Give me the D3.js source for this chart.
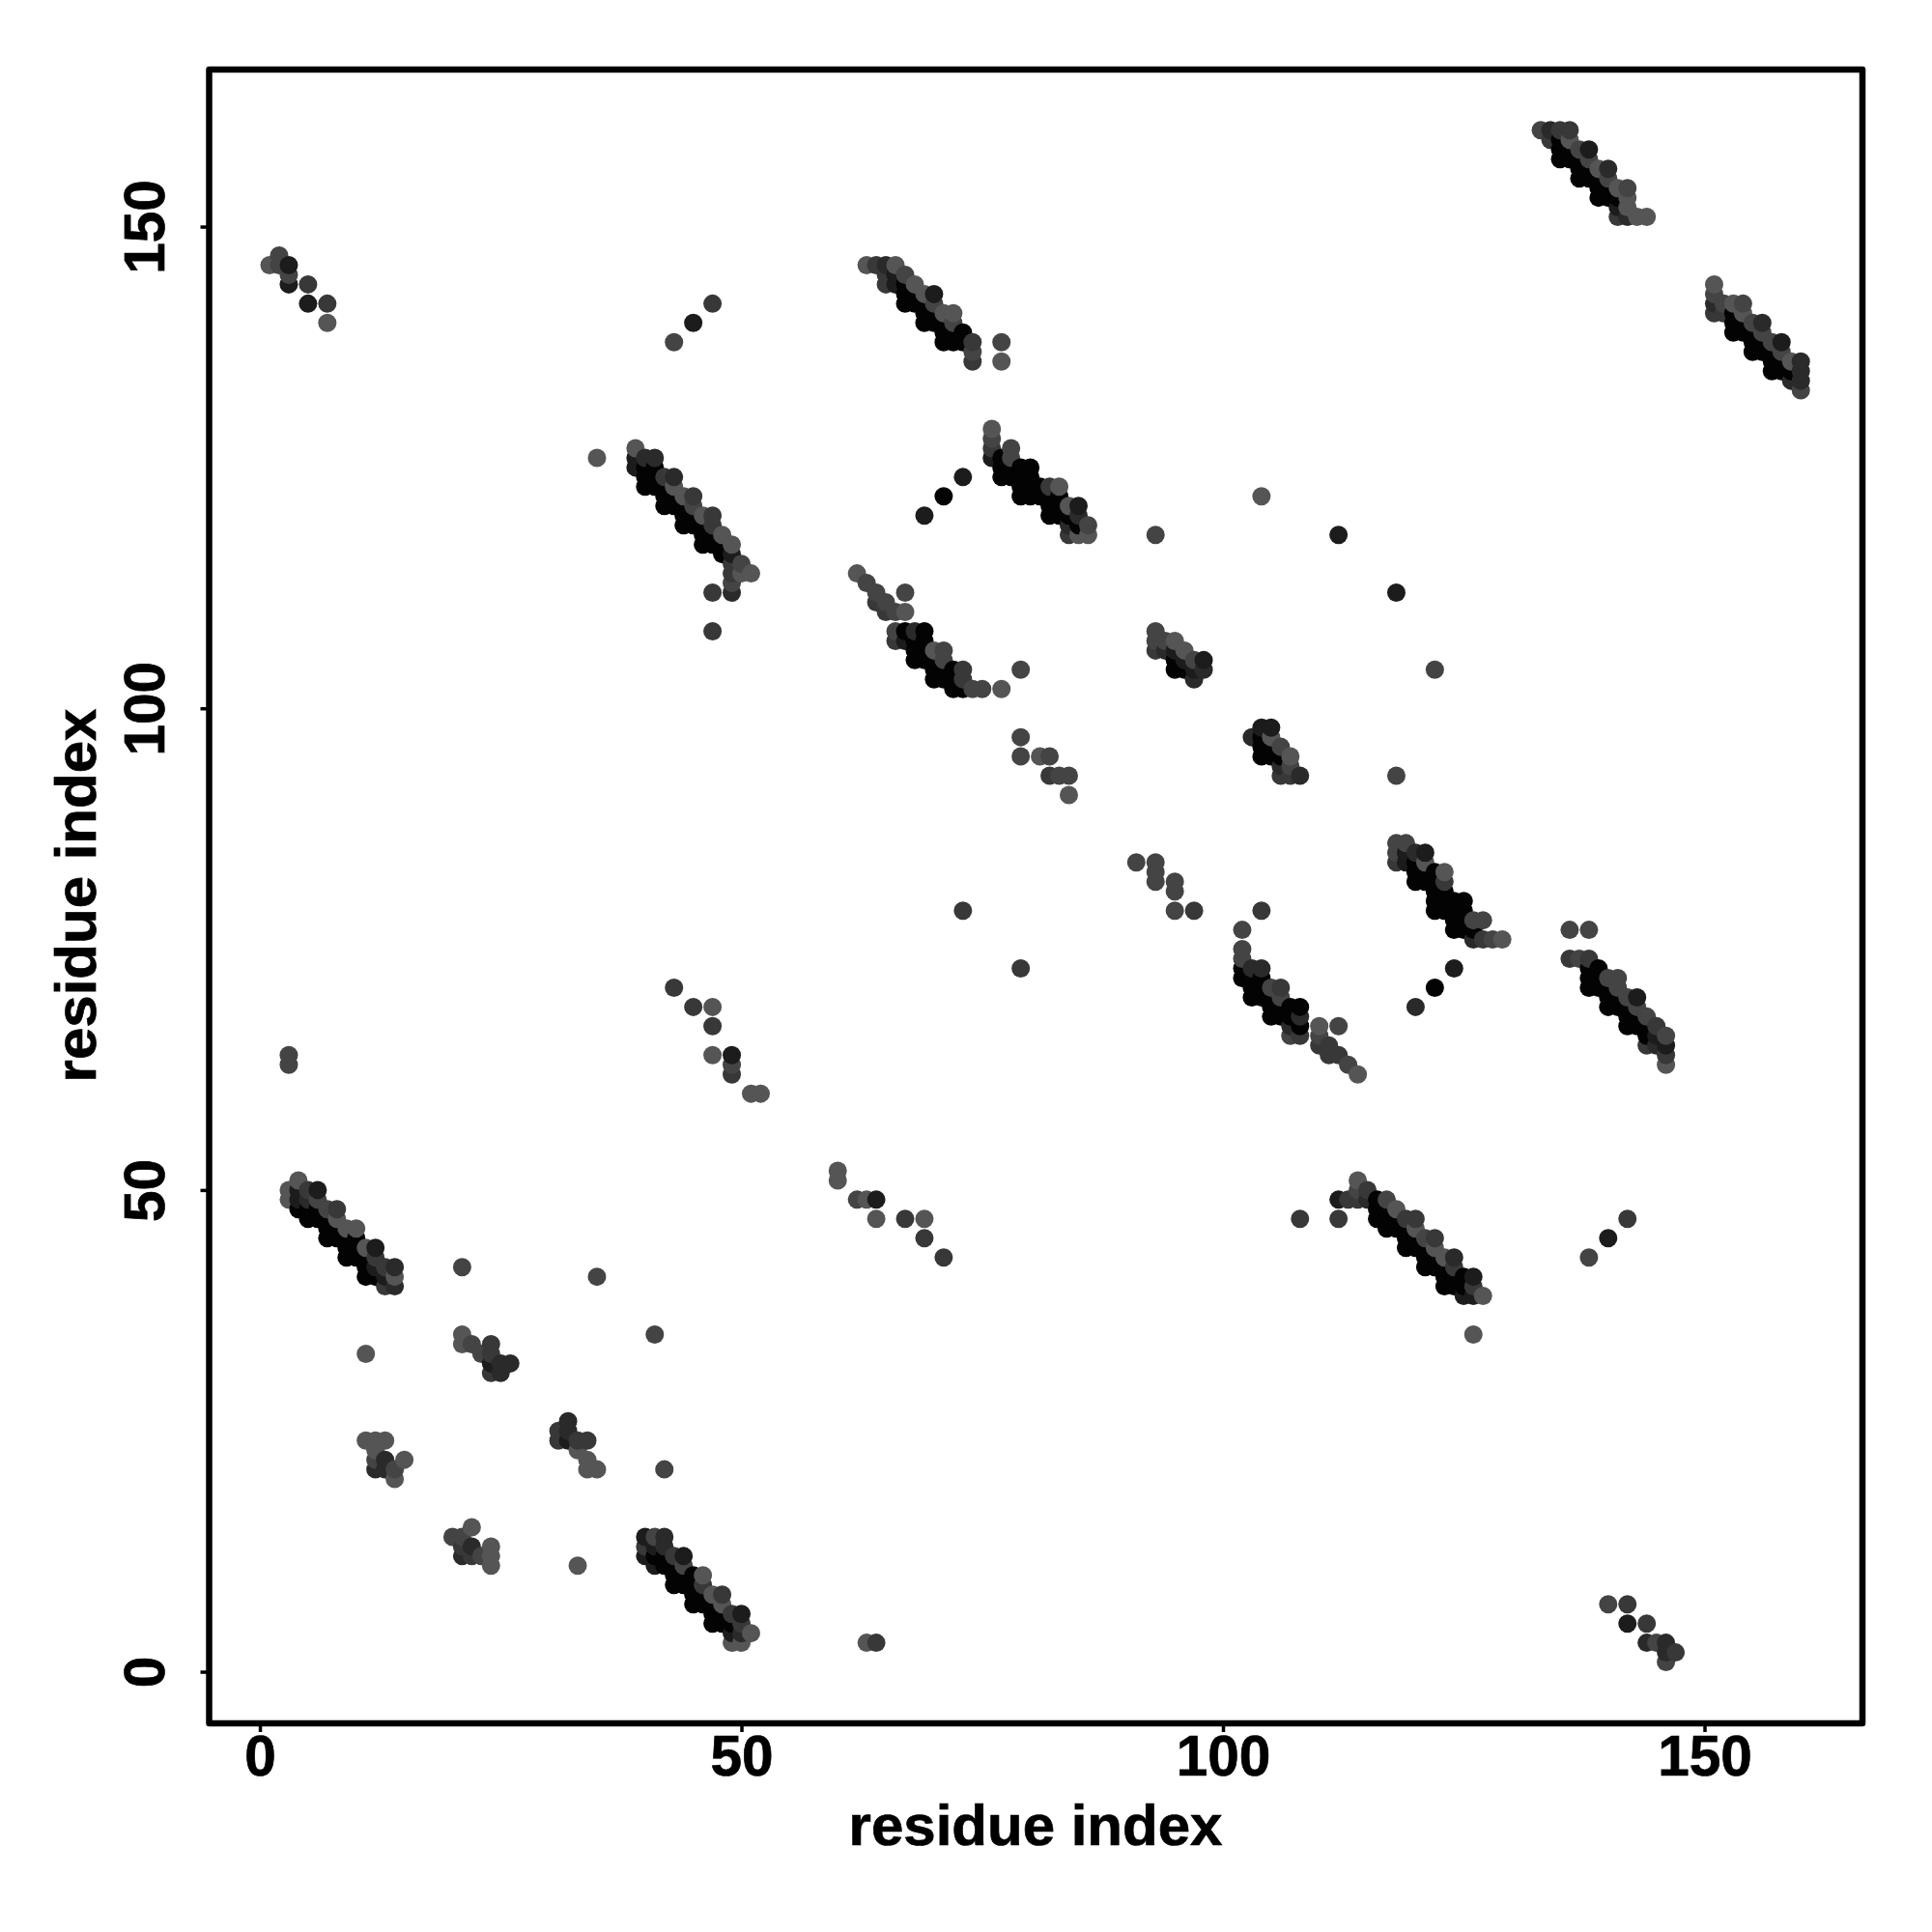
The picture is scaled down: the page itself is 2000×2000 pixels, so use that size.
<!DOCTYPE html>
<html>
<head>
<meta charset="utf-8">
<script src="https://cdn.jsdelivr.net/npm/d3@7/dist/d3.min.js"></script>
<style>html,body{margin:0;padding:0;background:#fff}svg{display:block}text{font-family:"Liberation Sans",Arial,sans-serif;font-weight:bold;fill:#000;stroke:#000;stroke-width:0.7px}</style>
</head>
<body>
<script>
// every contact is [residue x, residue y, darkness level 0 (black) .. 5 (grey)]
const xTicks = [0, 50, 100, 150];
const yTicks = [0, 50, 100, 150];
const xTitle = "residue index";
const yTitle = "residue index";
const levelDomain = [0, 1, 2, 3, 4, 5];
const levelGrey = ["#030303", "#1c1c1c", "#2a2a2a", "#383838", "#444444", "#555555"];

const isolated = [
[1,146,5],[2,146,4],[2,147,4],[3,144,1],[3,145,4],[3,146,1],[5,142,1],[5,144,3],[7,140,5],[7,142,3],
[43,138,4],[45,140,1],[47,142,3],[35,126,5],[21,42,4],[35,41,4],[41,35,4],[11,33,5],[42,21,4],[33,11,5],
[3,63,4],[3,64,4],[63,3,5],[64,3,3],[73,124,1],[71,122,0],[69,120,1],[93,118,4],[104,122,5],[112,118,1],
[118,112,1],[122,104,4],[118,93,4],[73,79,3],[79,73,3],[104,79,3],[126,35,5],[108,47,3],
[124,73,1],[122,71,0],[120,69,2],[138,43,4],[140,45,1],[142,47,3]];

const sheetLowerLeft = [
[3,49,5],[3,50,5],[4,48,0],[4,49,1],[4,50,1],[4,51,5],[5,47,0],[5,48,0],[5,49,2],[5,50,3],
[6,47,0],[6,48,0],[6,49,4],[6,50,1],[7,45,0],[7,46,0],[7,47,0],[7,48,4],[8,45,0],[8,46,0],[8,47,5],[8,48,3],
[9,43,0],[9,44,0],[9,45,0],[9,46,5],[10,43,0],[10,44,0],[10,45,0],[10,46,5],[11,41,0],[11,42,0],[11,43,0],[11,44,5],
[12,41,0],[12,42,1],[12,43,3],[12,44,1],[13,40,3],[13,41,1],[13,42,3],[14,40,2],[14,41,5],[14,42,2]];

const smallBlocks = [
[21,34,5],[21,35,5],[22,34,4],[23,33,4],[24,31,3],[24,32,1],[24,33,3],[24,34,3],[25,31,2],[25,32,2],[26,32,2],
[11,24,5],[12,24,5],[13,24,5],[12,21,2],[12,22,4],[12,23,5],[13,21,2],[13,22,2],[14,20,5],[14,21,4],[15,22,5],
[31,24,3],[31,25,3],[32,24,1],[32,25,2],[32,26,2],[33,23,5],[33,24,3],[34,21,5],[34,22,5],[34,24,3],[35,21,5],
[20,14,4],[21,12,2],[21,13,3],[21,14,4],[22,12,3],[22,13,2],[22,15,5],[23,12,4],[24,11,5],[24,12,5],[24,13,5]];

const sheetBottom = [
[40,12,1],[40,13,3],[40,14,1],[41,11,1],[41,12,0],[41,13,1],[41,14,4],[42,11,0],[42,12,0],[42,13,2],[42,14,2],
[43,9,0],[43,10,0],[43,11,0],[43,12,3],[44,9,0],[44,10,0],[44,11,4],[44,12,1],[45,7,0],[45,8,0],[45,9,0],[45,10,0],
[46,7,0],[46,8,0],[46,9,3],[46,10,5],[47,5,0],[47,6,0],[47,7,0],[47,8,5],[48,5,0],[48,6,0],[48,7,5],[48,8,3],
[49,3,5],[49,4,1],[49,5,0],[49,6,3],[50,3,5],[50,4,2],[50,5,3],[50,6,1],[51,4,5]];

const bandBottomRight = [
[140,7,4],[142,5,1],[142,7,3],[144,3,2],[144,5,3],[145,3,4],[146,1,4],[146,2,2],[146,3,2],[147,2,3]];

const chainMiddle = [
[60,51,5],[60,52,5],[62,49,4],[63,49,5],[64,47,5],[64,49,1],[67,47,3],[69,45,3],[69,47,5],[71,43,3],
[43,71,3],[45,69,3],[47,64,5],[47,67,3],[47,69,5],[49,62,3],[49,63,4],[49,64,1],[51,60,5],[52,60,5],
[91,84,4],[93,82,4],[93,83,4],[93,84,4],[95,79,4],[95,81,4],[95,82,4],[97,79,3]];

const sheetLowerMid = [
[112,47,3],[112,49,1],[113,49,3],[114,49,3],[114,50,4],[114,51,5],[115,49,2],[115,50,3],[116,47,0],[116,48,0],[116,49,0],
[117,46,0],[117,47,0],[117,48,0],[117,49,4],[118,46,0],[118,47,0],[118,48,5],[119,44,0],[119,45,0],[119,46,0],[119,47,3],
[120,44,0],[120,45,0],[120,46,5],[120,47,3],[121,42,0],[121,43,0],[121,44,0],[121,45,4],[122,42,0],[122,43,0],[122,44,5],[122,45,3],
[123,40,0],[123,41,0],[123,42,0],[123,43,5],[124,40,0],[124,41,0],[124,42,3],[124,43,2],[125,39,1],[125,40,0],[125,41,0],
[126,39,1],[126,40,3],[126,41,1],[127,39,5]];

const sheetUpperLeft = [
[39,125,1],[39,126,1],[39,127,5],[40,123,0],[40,124,0],[40,125,0],[40,126,2],[41,123,0],[41,124,0],[41,125,0],[41,126,2],
[42,121,0],[42,122,0],[42,123,0],[42,124,3],[43,121,0],[43,122,0],[43,123,5],[43,124,2],[44,119,0],[44,120,0],[44,121,0],[44,122,5],
[45,119,0],[45,120,0],[45,121,4],[45,122,3],[46,117,0],[46,118,0],[46,119,0],[46,120,5],[47,108,3],[47,112,3],[47,117,0],[47,118,0],[47,119,3],[47,120,3],
[48,116,0],[48,117,0],[48,118,5],[49,112,2],[49,113,4],[49,114,3],[49,115,3],[49,116,1],[49,117,5],[50,114,5],[50,115,4],[51,114,5]];

const sheetTopMid = [
[63,146,5],[64,146,3],[65,144,3],[65,145,3],[65,146,2],[66,144,1],[66,145,1],[66,146,5],[67,142,0],[67,143,0],[67,144,0],[67,145,4],
[68,142,0],[68,143,0],[68,144,5],[69,140,0],[69,141,0],[69,142,0],[69,143,5],[70,140,0],[70,141,0],[70,142,4],[70,143,1],
[71,138,0],[71,139,0],[71,140,0],[71,141,5],[72,138,0],[72,139,0],[72,140,4],[72,141,5],[73,138,0],[73,139,0],
[74,136,3],[74,137,4],[74,138,3],[77,136,5],[77,138,4]];

const sheetCenterUpper = [
[76,126,1],[76,127,3],[76,128,4],[76,129,5],[77,124,0],[77,125,0],[77,126,0],[78,124,0],[78,125,0],[78,126,4],[78,127,4],
[79,122,0],[79,123,0],[79,124,0],[79,125,0],[80,122,0],[80,123,0],[80,124,0],[80,125,0],[81,122,0],[81,123,0],
[82,120,0],[82,121,0],[82,122,0],[82,123,3],[83,120,0],[83,121,0],[83,122,0],[83,123,5],[84,118,3],[84,119,2],[84,120,0],[84,121,5],
[85,118,5],[85,119,0],[85,120,2],[85,121,1],[86,118,5],[86,119,4]];

const sheetTopRight = [
[133,160,4],[134,159,3],[134,160,2],[135,157,0],[135,158,0],[135,159,0],[135,160,3],[136,157,0],[136,158,0],[136,159,5],[136,160,3],
[137,155,0],[137,156,0],[137,157,0],[137,158,4],[138,155,0],[138,156,0],[138,157,4],[138,158,1],[139,153,0],[139,154,0],[139,155,0],[139,156,5],
[140,153,0],[140,154,0],[140,155,4],[140,156,2],[141,151,3],[141,152,1],[141,153,0],[141,154,5],[142,151,2],[142,152,5],[142,153,5],[142,154,4],[143,151,5],[144,151,5]];

const sheetFarRight = [
[151,141,3],[151,142,2],[151,143,4],[151,144,5],[152,141,3],[152,142,4],[153,139,0],[153,140,0],[153,141,0],[153,142,5],
[154,139,0],[154,140,0],[154,141,5],[154,142,4],[155,137,0],[155,138,0],[155,139,0],[155,140,4],[156,137,0],[156,138,0],[156,139,4],[156,140,2],
[157,135,0],[157,136,0],[157,137,0],[157,138,4],[158,135,0],[158,136,0],[158,137,4],[158,138,1],[159,134,2],[159,135,0],[159,136,5],
[160,133,4],[160,134,2],[160,135,2],[160,136,2]];

const sheetMidRight = [
[102,72,0],[102,73,0],[102,74,4],[102,75,4],[102,77,4],[103,70,0],[103,71,0],[103,72,0],[103,73,2],[104,70,0],[104,71,0],[104,72,0],[104,73,2],
[105,68,0],[105,69,0],[105,70,0],[105,71,4],[106,68,0],[106,69,0],[106,70,4],[106,71,3],[107,66,4],[107,67,2],[107,68,0],[107,69,0],
[108,66,3],[108,67,0],[108,68,2],[108,69,0],[110,65,3],[110,66,4],[110,67,5],[111,64,3],[111,65,3],[112,64,3],[112,67,4],[113,63,4],[114,62,5]];

const sheetCenterRight = [
[118,84,3],[118,85,4],[118,86,4],[119,84,1],[119,85,1],[119,86,4],[120,82,0],[120,83,0],[120,84,0],[120,85,2],[121,82,0],[121,83,0],[121,84,5],[121,85,1],
[122,79,0],[122,80,0],[122,81,0],[122,82,0],[122,83,0],[123,79,0],[123,80,0],[123,81,0],[123,82,3],[123,83,5],[124,77,0],[124,78,0],[124,79,0],[124,80,0],
[125,77,0],[125,78,0],[125,79,0],[125,80,0],[126,76,2],[126,77,0],[126,78,4],[127,76,3],[127,78,4],[128,76,4],[129,76,5]];

const sheetRightLower = [
[136,74,3],[136,77,4],[137,74,4],[138,71,0],[138,72,0],[138,73,0],[138,74,3],[138,77,4],[139,71,0],[139,72,0],[139,73,0],
[140,69,0],[140,70,0],[140,71,0],[140,72,4],[141,69,0],[141,70,0],[141,71,4],[141,72,4],[142,67,0],[142,68,0],[142,69,0],[142,70,4],
[143,67,0],[143,68,0],[143,69,4],[143,70,1],[144,65,3],[144,66,0],[144,67,0],[144,68,4],[145,65,2],[145,66,1],[145,67,3],
[146,63,5],[146,64,3],[146,65,1],[146,66,4]];

const sheetCenterLeft = [
[62,114,5],[63,113,4],[64,111,3],[64,112,4],[65,110,3],[65,111,4],[66,107,3],[66,108,4],[66,110,4],[67,107,1],[67,108,0],[67,110,5],[67,112,4],
[68,105,0],[68,106,0],[68,107,0],[68,108,2],[69,105,0],[69,106,0],[69,107,0],[69,108,0],[70,103,0],[70,104,0],[70,105,0],[70,106,5],
[71,103,0],[71,104,0],[71,105,4],[71,106,4],[72,102,0],[72,103,0],[72,104,0],[73,102,0],[73,103,3],[73,104,3],[74,102,4],[75,102,4],[77,102,5],
[79,95,4],[79,97,4],[79,104,4],[81,95,5],[82,93,3],[82,95,4],[83,93,4],[84,91,5],[84,93,4]];

const blockUpper = [
[93,106,3],[93,107,4],[93,108,4],[94,106,2],[94,107,4],[95,104,0],[95,105,0],[95,106,1],[95,107,5],[96,104,0],[96,105,1],[96,106,5],
[97,103,2],[97,104,1],[97,105,4],[98,104,2],[98,105,1]];

const blockLower = [
[103,97,2],[104,95,0],[104,96,0],[104,97,0],[104,98,1],[105,95,0],[105,96,0],[105,97,5],[105,98,1],[106,93,3],[106,94,2],[106,95,0],[106,96,4],
[107,93,3],[107,94,4],[107,95,5],[108,93,2]];

const contacts = [].concat(isolated, sheetLowerLeft, smallBlocks, sheetBottom, bandBottomRight, chainMiddle,
  sheetLowerMid, sheetUpperLeft, sheetTopMid, sheetCenterUpper, sheetTopRight, sheetFarRight, sheetMidRight,
  sheetCenterRight, sheetRightLower, sheetCenterLeft, blockUpper, blockLower);

const width = 2000, height = 2000;
const frame = {left: 216.5, right: 1928, top: 72, bottom: 1784};
const x = d3.scaleLinear().domain([-5.27, 166.4]).range([frame.left, frame.right]);
const y = d3.scaleLinear().domain([-5.36, 166.3]).range([frame.bottom, frame.top]);
const grey = d3.scaleOrdinal().domain(levelDomain).range(levelGrey);

const svg = d3.select("body").append("svg").attr("width", width).attr("height", height);
svg.append("rect").attr("width", width).attr("height", height).attr("fill", "#fff");

const ordered = contacts.slice().sort((a, b) => d3.ascending(a[0], b[0]) || d3.ascending(a[1], b[1]));
svg.append("g").selectAll("circle").data(ordered).join("circle")
  .attr("cx", d => x(d[0])).attr("cy", d => y(d[1])).attr("r", 9.5)
  .attr("fill", d => grey(d[2]));

svg.append("rect").attr("x", frame.left).attr("y", frame.top)
  .attr("width", frame.right - frame.left).attr("height", frame.bottom - frame.top)
  .attr("fill", "none").attr("stroke", "#000").attr("stroke-width", 6.5).attr("stroke-linejoin", "round");

const gx = svg.append("g").attr("transform", `translate(0,${frame.bottom})`)
  .call(d3.axisBottom(x).tickValues(xTicks).tickSize(9).tickFormat(d3.format("d")));
gx.select(".domain").remove();
gx.selectAll("line").attr("stroke", "#000").attr("stroke-width", 3.5);
gx.selectAll("text").attr("y", 54).attr("dy", 0).attr("font-size", 58.5).attr("font-family", '"Liberation Sans"').attr("font-weight", "bold");

const gy = svg.append("g").attr("transform", `translate(${frame.left},0)`)
  .call(d3.axisLeft(y).tickValues(yTicks).tickSize(9).tickFormat(d3.format("d")));
gy.select(".domain").remove();
gy.selectAll("line").attr("stroke", "#000").attr("stroke-width", 3.5);
gy.selectAll("text").attr("x", 0).attr("y", 0).attr("dy", 0).attr("text-anchor", "middle")
  .attr("transform", "translate(-46.5,0) rotate(-90)")
  .attr("font-size", 58.5).attr("font-family", '"Liberation Sans"').attr("font-weight", "bold");

svg.append("text").attr("x", 1072).attr("y", 1910)
  .attr("text-anchor", "middle").attr("font-size", 60).text(xTitle);
svg.append("text").attr("transform", `translate(99,927) rotate(-90)`)
  .attr("text-anchor", "middle").attr("font-size", 60).text(yTitle);
</script>
</body>
</html>
